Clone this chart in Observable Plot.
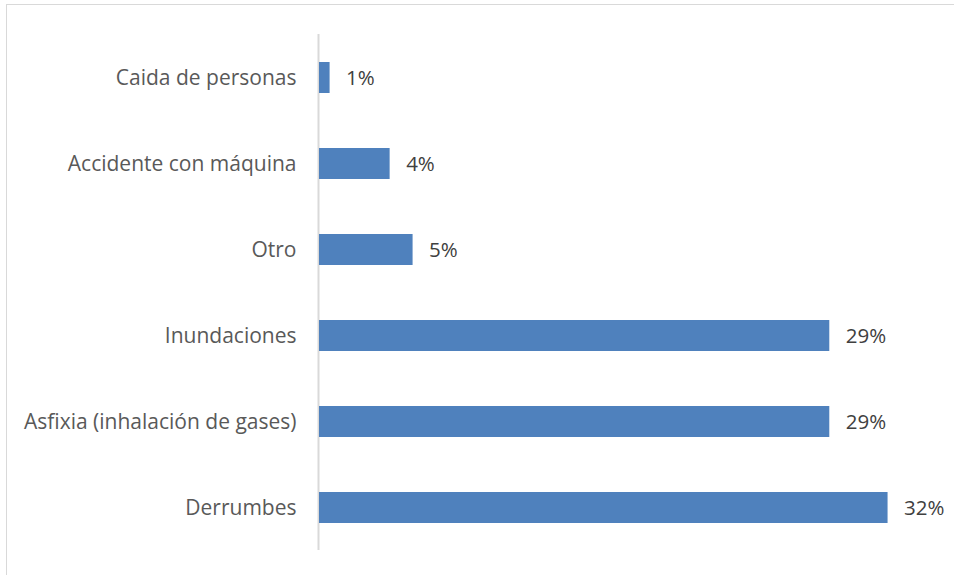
<!DOCTYPE html>
<html><head><meta charset="utf-8">
<script src="https://cdn.jsdelivr.net/npm/d3@7"></script>
<script src="https://cdn.jsdelivr.net/npm/@observablehq/plot@0.6"></script>
<style>
html,body{margin:0;padding:0;background:#fff;overflow:hidden;width:954px;height:575px;}
#frame{position:absolute;left:6px;top:4px;width:990px;height:610px;border:1.5px solid #d9d9d9;box-sizing:border-box;}
#chart{position:absolute;left:0;top:0;}
</style></head><body><div id="frame"></div><div id="chart"></div>
<script>
const categories = ["Caida de personas","Accidente con máquina","Otro","Inundaciones","Asfixia (inhalación de gases)","Derrumbes"];
const values = [0.6, 4.0, 5.3, 28.9, 28.9, 32.2];
const labels = ["1%","4%","5%","29%","29%","32%"];
const data = categories.map((c,i)=>({category:c, value:values[i], label:labels[i]}));
const chart = Plot.plot({
  width:954, height:575, marginLeft:319, marginRight:17, marginTop:34, marginBottom:25,
  style:{fontFamily:"'Open Sans', sans-serif", fontSize:"20px", background:"transparent", overflow:"visible"},
  x:{domain:[0,35], axis:null},
  y:{domain:categories, paddingInner:0.645, paddingOuter:0.3225, axis:null},
  marks:[
    Plot.ruleX([0],{stroke:"#d9d9d9", strokeWidth:2, dx:-1}),
    Plot.barX(data,{x:"value", y:"category", fill:"#4f81bd"}),
    Plot.axisY({tickSize:0, tickPadding:23, fill:"#595959", fontSize:21, label:null}),
    Plot.text(data,{x:"value", y:"category", text:"label", textAnchor:"start", dx:16, fill:"#404040", fontSize:20.5})
  ]
});
document.getElementById("chart").appendChild(chart);
</script></body></html>
